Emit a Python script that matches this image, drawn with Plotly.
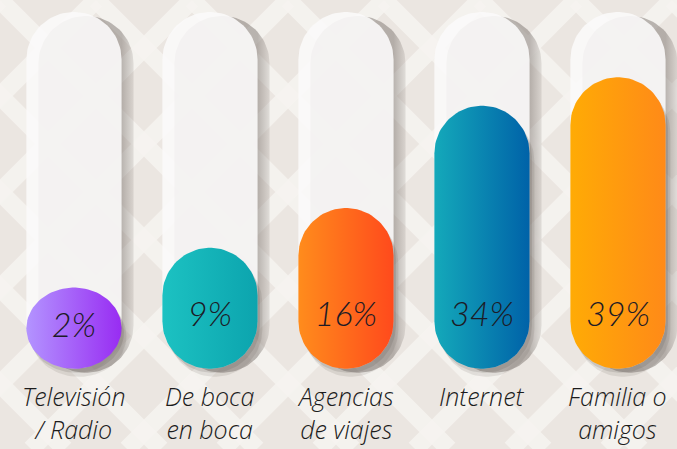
import numpy as np
import plotly.graph_objects as go

# ---------------- data ----------------
categories = ["Televisión<br>/ Radio", "De boca<br>en boca", "Agencias<br>de viajes",
              "Internet", "Familia o<br>amigos"]
values = [2, 9, 16, 34, 39]
value_labels = ["2%", "9%", "16%", "34%", "39%"]
colors_left = ["#b394ff", "#1cc2c2", "#ff8c1c", "#14a9ba", "#ffab05"]
colors_right = ["#982cf2", "#0ca4ae", "#ff4a1c", "#0062a8", "#ff8a18"]

# ---------------- geometry ----------------
W, H = 677, 449
x_range = [-0.544, 4.434]
y_range = [-26.4, 52.6]
px_x = W / (x_range[1] - x_range[0])
px_y = H / (y_range[1] - y_range[0])
bar_w = 0.70
base = -12.3
track_top = 50.5
label_level = -3.2

x_idx = list(range(len(categories)))


def pill(xc, y0, y1, w, dx=0.0, dy=0.0, n=48):
    rx = w / 2
    ry = rx * px_x / px_y
    ry = min(ry, (y1 - y0) / 2)
    ox = dx / px_x
    oy = -dy / px_y
    t = np.linspace(0, np.pi, n)
    tx = xc + rx * np.cos(t)
    ty = (y1 - ry) + ry * np.sin(t)
    bx = xc + rx * np.cos(t + np.pi)
    by = (y0 + ry) + ry * np.sin(t + np.pi)
    xs = np.concatenate([tx, bx, tx[:1]]) + ox
    ys = np.concatenate([ty, by, ty[:1]]) + oy
    return xs, ys


fig = go.Figure()

# track shadows
for i in x_idx:
    xs, ys = pill(i, base, track_top, bar_w, dx=12, dy=4)
    right = i + bar_w / 2
    fig.add_trace(go.Scatter(
        x=xs, y=ys, mode="lines", line=dict(width=0), fill="toself",
        fillgradient=dict(type="horizontal", start=right, stop=right + 18 / px_x,
                          colorscale=[[0, "rgba(125,117,112,0.5)"],
                                      [1, "rgba(125,117,112,0)"]]),
        hoverinfo="skip", showlegend=False))

# tracks
for i in x_idx:
    xs, ys = pill(i, base, track_top, bar_w)
    fig.add_trace(go.Scatter(
        x=xs, y=ys, mode="lines", line=dict(width=0), fill="toself",
        fillcolor="rgba(251,250,249,0.9)", hoverinfo="skip", showlegend=False))

# bar shadows
for i, v in zip(x_idx, values):
    for d, a in [(8, 0.13), (4, 0.17)]:
        xs, ys = pill(i, base, v, bar_w, dx=d * 0.6, dy=d)
        fig.add_trace(go.Scatter(
            x=xs, y=ys, mode="lines", line=dict(width=0), fill="toself",
            fillcolor=f"rgba(90,82,78,{a})", hoverinfo="skip", showlegend=False))

# bars
for i, v, cl, cr in zip(x_idx, values, colors_left, colors_right):
    xs, ys = pill(i, base, v, bar_w)
    fig.add_trace(go.Scatter(
        x=xs, y=ys, mode="lines", line=dict(width=0), fill="toself",
        fillgradient=dict(type="horizontal", colorscale=[[0, cl], [1, cr]]),
        hoverinfo="skip", showlegend=False))

# value labels
label_y = [min((base + v) / 2, label_level) for v in values]
fig.add_trace(go.Scatter(
    x=x_idx, y=label_y, mode="text", text=value_labels,
    textfont=dict(family="Lato", size=34, color="#1d1b26", weight=300, style="italic"),
    hoverinfo="skip", showlegend=False))

# category labels
for i, c in zip(x_idx, categories):
    fig.add_annotation(
        x=i, xref="x", y=1 - 377 / H, yref="paper", yanchor="top",
        text=c, showarrow=False, align="center",
        font=dict(family="Open Sans", size=25, color="#1c1c1c", weight=300, style="italic"))

# background lattice
shapes = []
S = 96
for k in range(-8, 16):
    x0 = k * S
    for sgn in (1, -1):
        shapes.append(dict(
            type="line", xref="paper", yref="paper", layer="below",
            x0=x0 / W, y0=1.0, x1=(x0 + sgn * H) / W, y1=0.0,
            line=dict(color="rgba(246,243,240,0.85)", width=18)))

fig.update_layout(
    width=W, height=H,
    margin=dict(l=0, r=0, t=0, b=0),
    paper_bgcolor="#ebe6e1",
    plot_bgcolor="rgba(0,0,0,0)",
    xaxis=dict(range=x_range, visible=False, fixedrange=True),
    yaxis=dict(range=y_range, visible=False, fixedrange=True),
    shapes=shapes,
    showlegend=False,
)

fig.write_html("out.html", config={"displayModeBar": False},
               post_script="document.body.style.margin='0px';document.body.style.overflow='hidden';")
